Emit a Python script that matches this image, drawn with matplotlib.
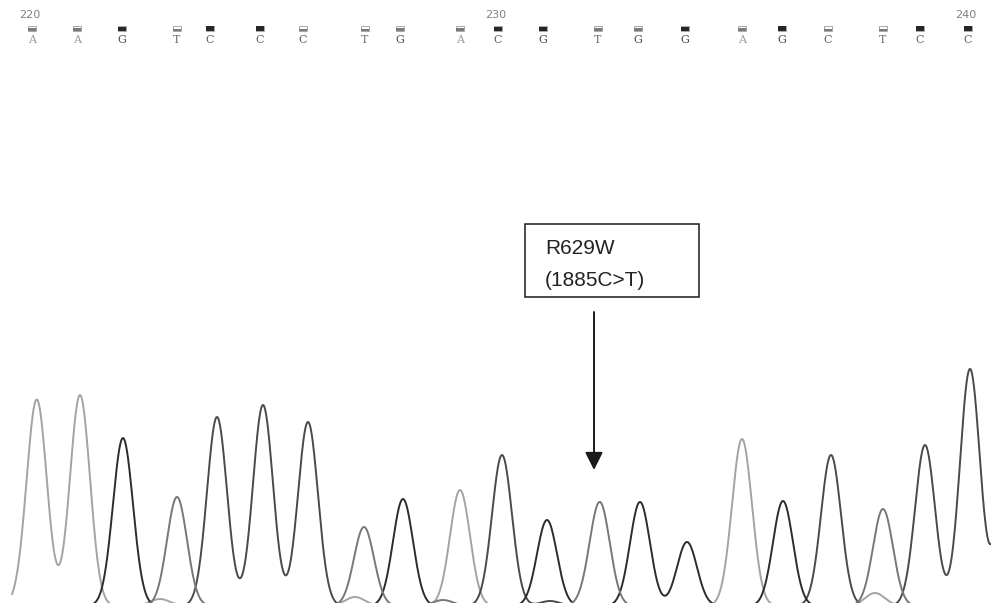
import numpy as np
import matplotlib
matplotlib.use("Agg")
import matplotlib.pyplot as plt
from matplotlib.patches import Rectangle

# base calls (positions 220-240) with their call position and quality
bases = list("AAGTCCCTGACGTGGAGCTCC")
call_x = [32, 77, 122, 177, 210, 260, 303, 365, 400, 460, 498,
          543, 598, 638, 685, 742, 782, 828, 883, 920, 968]
quality = [0.55, 0.55, 0.7, 0.4, 0.95, 0.95, 0.4, 0.35, 0.45, 0.55, 0.75,
           0.7, 0.5, 0.6, 0.7, 0.55, 1.0, 0.4, 0.35, 0.95, 0.95]
first_base = 220

# trace peaks: channel, scan position, signal height
peak_ch = list("AAGTCCCTGACGTGGAGCTCC") + ["C"]
peak_x = [37, 80, 123, 177, 217, 263, 308, 364, 403, 460, 502,
          547, 600, 640, 687, 742, 783, 831, 883, 925, 970, 1010]
peak_h = [201, 211, 162, 109, 189, 201, 184, 79, 107, 116, 151,
          86, 101, 104, 64, 167, 105, 151, 97, 161, 237, 220]

# small background humps near the baseline
minor_ch = ["A", "G", "A", "A", "T", "C", "A", "T"]
minor_x = [27, 122, 160, 355, 443, 550, 875, 590]
minor_h = [9, 6, 7, 9, 6, 5, 13, 5]

colors = {"A": "#a3a3a3", "C": "#4a4a4a", "G": "#2c2c2c", "T": "#777777"}
label_colors = {"A": "#9a9a9a", "C": "#5a5a5a", "G": "#4a4a4a", "T": "#707070"}

W, H = 991, 603
fig = plt.figure(figsize=(W / 100, H / 100), dpi=100)
ax = fig.add_axes([0, 0, 1, 1])
# baseline sits just below the bottom edge, as in the trace viewer
ax.set_xlim(0, W)
ax.set_ylim(3, H + 3)
ax.axis("off")

# build the four channels from the peaks
sigma = 10.0
x = np.linspace(12, W, 2000)
for ch in "ACGT":
    y = np.zeros_like(x)
    for c, px, ph in zip(peak_ch, peak_x, peak_h):
        if c == ch:
            y += ph * np.exp(-(x - px) ** 2 / (2 * sigma ** 2))
    for c, px, ph in zip(minor_ch, minor_x, minor_h):
        if c == ch:
            y += ph * np.exp(-(x - px) ** 2 / (2 * sigma ** 2))
    ax.plot(x, y, color=colors[ch], lw=1.4, solid_capstyle="round")

top = H + 3
# quality bars, letters and position numbers along the top
bw, bh = 8, 5
for i, (b, bx, q) in enumerate(zip(bases, call_x, quality)):
    y0 = top - 28 - bh / 2
    ax.add_patch(Rectangle((bx - bw / 2, y0), bw, bh, fill=False,
                           edgecolor="#a8a8a8", lw=0.7))
    ax.add_patch(Rectangle((bx - bw / 2, y0), bw, bh * q,
                           facecolor="#262626" if q > 0.6 else "#7a7a7a",
                           edgecolor="none"))
    ax.text(bx, top - 40, b, ha="center", va="center", fontsize=8,
            family="DejaVu Serif", color=label_colors[b])
    if (first_base + i) % 10 == 0:
        ax.text(bx - 2, top - 15, str(first_base + i), ha="center", va="center",
                fontsize=8, family="DejaVu Sans", color="#808080")

# mutation annotation
ax.add_patch(Rectangle((525, top - 297), 174, 73, fill=False,
                       edgecolor="#1a1a1a", lw=1.1))
ax.text(545, top - 249, "R629W", ha="left", va="center", fontsize=15,
        family="Liberation Sans", color="#222222")
ax.text(545, top - 280, "(1885C>T)", ha="left", va="center", fontsize=15,
        family="Liberation Sans", color="#222222")
ax.annotate("", xy=(594, top - 470), xytext=(594, top - 312),
            arrowprops=dict(arrowstyle="-|>,head_length=0.6,head_width=0.3",
                            mutation_scale=18, lw=1.4, color="#1a1a1a",
                            shrinkA=0, shrinkB=0))

fig.savefig("out.png", dpi=100, facecolor="white")
